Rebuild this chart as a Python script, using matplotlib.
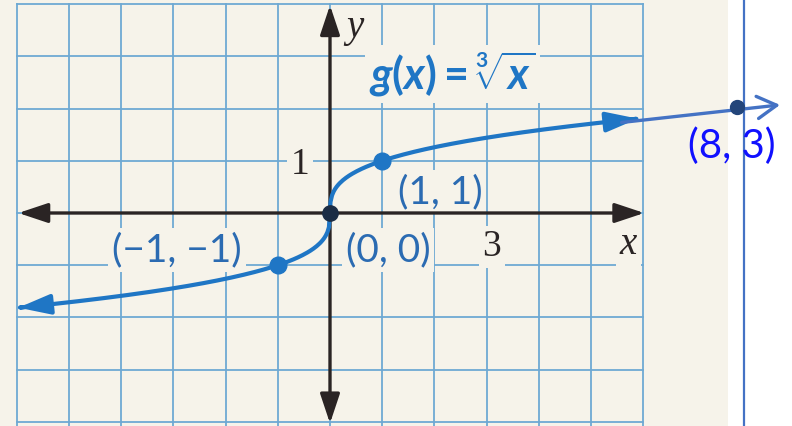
import numpy as np
import matplotlib.pyplot as plt
from matplotlib.patches import FancyArrowPatch
from matplotlib.path import Path

plt.rcParams['mathtext.fontset'] = 'custom'
plt.rcParams['mathtext.rm'] = 'Lato:bold'
plt.rcParams['mathtext.it'] = 'Lato:bold:italic'
plt.rcParams['mathtext.bf'] = 'Lato:bold'

# graph paper and curve
grid_x = np.arange(-6, 7)
grid_y = np.arange(-4, 5)
curve_x_min, curve_x_max = -5.97, 5.9
key_x = [-1, 0, 1]
key_y = [-1, 0, 1]
key_labels = ["(\u22121, \u22121)", "(0, 0)", "(1, 1)"]
tick_x, tick_x_label = 3, "3"
tick_y, tick_y_label = 1, "1"

# added point on the right
extra_x, extra_y = 8, 3
extra_label = "(8, 3)"

paper = "#f6f3ea"
grid_col = "#6ea9d3"
axis_col = "#2a2424"
curve_col = "#1f76c5"
label_col = "#2b6bb2"
note_col = "#4472c4"

U = 52.2  # pixels per unit
fig = plt.figure(figsize=(7.92, 4.26), dpi=100, facecolor="white")
ax = fig.add_axes([0, 0, 1, 1])
ax.set_xlim(-330 / U, (792 - 330) / U)
ax.set_ylim(-(426 - 213) / U, 213 / U)
ax.axis("off")

# paper background
ax.axvspan(-330 / U, (728 - 330) / U, color=paper, zorder=0, lw=0)

# grid lines
for gx in grid_x:
    ax.plot([gx, gx], [grid_y[0] - 0.2, grid_y[-1]], color=grid_col, lw=1.3, zorder=1)
for gy in grid_y:
    ax.plot([grid_x[0], grid_x[-1]], [gy, gy], color=grid_col, lw=1.3, zorder=1)

# axes with arrowheads
head = "<|-|>,head_length=1.5,head_width=0.5"
ax.add_patch(FancyArrowPatch((grid_x[0] + 0.03, 0), (grid_x[-1] + 0.02, 0),
                             arrowstyle=head, mutation_scale=12, lw=2.4,
                             color=axis_col, shrinkA=0, shrinkB=0, zorder=3))
ax.add_patch(FancyArrowPatch((0, -4.03), (0, 3.98),
                             arrowstyle=head, mutation_scale=12, lw=2.4,
                             color=axis_col, shrinkA=0, shrinkB=0, zorder=3))

# cube root curve
cx = np.linspace(curve_x_min, curve_x_max, 400)
cy = np.cbrt(cx)
ax.add_patch(FancyArrowPatch(path=Path(np.column_stack([cx, cy])),
                             arrowstyle="<|-|>,head_length=1.6,head_width=0.5",
                             mutation_scale=12, lw=3, color=curve_col, zorder=4))

for kx, ky in zip(key_x, key_y):
    c = "#1b2c44" if kx == 0 else curve_col
    ax.plot(kx, ky, "o", ms=12 if kx else 11, color=c, zorder=5)

knock = dict(boxstyle="square,pad=0.1", fc=paper, ec="none")
label_pos = [(-2.93, -0.71), (1.11, -0.71), (2.11, 0.40)]
for (lx, ly), txt in zip(label_pos, key_labels):
    ax.text(lx, ly, txt, color=label_col, fontsize=28, family="Lato",
            ha="center", va="center", bbox=knock, zorder=2)

serif = dict(family="Liberation Serif", color=axis_col, ha="center", va="center",
             bbox=knock, zorder=2)
ax.text(-0.57, tick_y - 0.08, tick_y_label, fontsize=27, **serif)
ax.text(tick_x + 0.1, -0.65, tick_x_label, fontsize=27, **serif)
ax.text(5.71, -0.6, "x", fontsize=28, style="italic", **serif)
ax.text(0.48, 3.55, "y", fontsize=28, style="italic", **serif)

ax.text(2.34, 2.66, r"$g(x) = \sqrt[3]{x}$", color=curve_col, fontsize=31,
        ha="center", va="center", bbox=dict(boxstyle="square,pad=0.1", fc=paper, ec="none"),
        zorder=2)

# overlay layer for the added point
ax2 = fig.add_axes([0, 0, 1, 1])
ax2.set_xlim(0, 8.6)
ax2.set_ylim(0, 4)
ax2.axis("off")
ax2.patch.set_alpha(0)

ax2.axvline(744 / 792 * 8.6, color=note_col, lw=1.6, zorder=1)
ax2.add_patch(FancyArrowPatch((6.75, 2.85), (8.47, 3.015),
                              arrowstyle="->,head_length=0.7,head_width=0.4",
                              mutation_scale=20, lw=2.4, color=note_col,
                              shrinkA=0, shrinkB=0, zorder=2))
ax2.plot(extra_x, extra_y, "o", ms=10, color="#23457a", zorder=3)
ax2.text(extra_x - 0.05, extra_y - 0.37, extra_label, color="#1010ff", fontsize=29,
         family="Lato", ha="center", va="center", zorder=4)

fig.savefig("out.png", dpi=100, facecolor="white")
